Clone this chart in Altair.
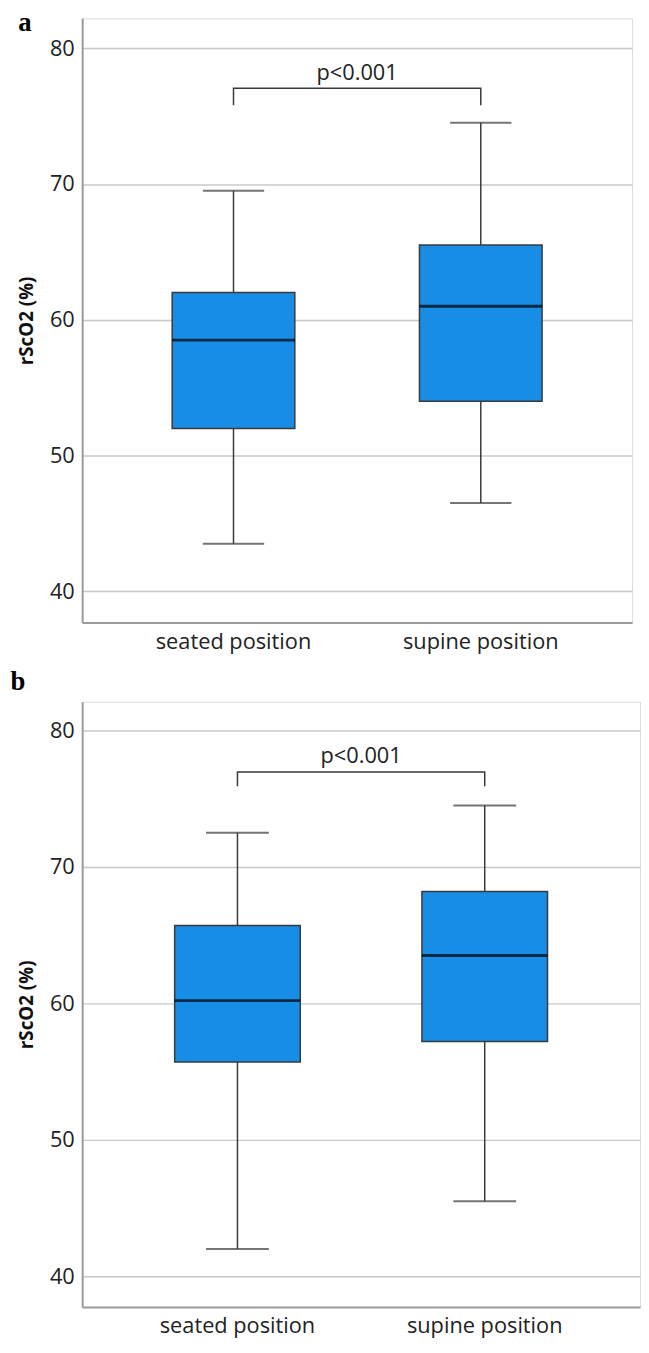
import altair as alt
import pandas as pd

categories = ["seated position", "supine position"]

# Panel a (box statistics, rScO2 %)
a_low = [43.5, 46.5]
a_q1 = [52.0, 54.0]
a_med = [58.5, 61.0]
a_q3 = [62.0, 65.5]
a_high = [69.5, 74.5]

# Panel b
b_low = [42.0, 45.5]
b_q1 = [55.7, 57.2]
b_med = [60.2, 63.5]
b_q3 = [65.7, 68.2]
b_high = [72.5, 74.5]

# significance bracket (bottom of legs, top bar) and label
a_bracket = [75.8, 77.05]
b_bracket = [75.9, 76.95]
p_label = "p<0.001"
a_p_y = 78.2
b_p_y = 78.1

y_ticks = [40, 50, 60, 70, 80]
a_domain = [37.7, 82.2]
b_domain = [37.75, 82.1]

FONT = "Open Sans"
BOX_FILL = "#178de6"
LINE = "#3a3a3a"


def panel(low, q1, med, q3, high, bracket, p_y, domain, letter, letter_x, letter_y,
          width, height, p_in, p_out, box_w):
    df = pd.DataFrame({"cat": categories, "low": low, "q1": q1, "med": med, "q3": q3, "high": high})
    br = pd.DataFrame({
        "cat": [categories[0], categories[0], categories[1], categories[1]],
        "y": [bracket[0], bracket[1], bracket[1], bracket[0]],
        "o": [0, 1, 2, 3],
    })
    pdf = pd.DataFrame({"cat": [categories[0]], "y": [p_y], "t": [p_label]})
    ldf = pd.DataFrame({"t": [letter]})

    xenc = alt.X("cat:N", sort=categories, title=None,
                 scale=alt.Scale(paddingInner=p_in, paddingOuter=p_out),
                 axis=alt.Axis(labelAngle=0, ticks=False, grid=False, labelFontSize=22,
                               labelFont=FONT, labelColor="#222", labelPadding=9,
                               domainColor="#9a9a9a", domainWidth=2))
    yscale = alt.Scale(domain=domain, nice=False, zero=False)
    yaxis = alt.Axis(values=y_ticks, ticks=False, grid=True, gridColor="#c8c8c8", gridWidth=1.5,
                     labelFontSize=22, labelFont=FONT, labelColor="#222", labelPadding=8,
                     domainColor="#9a9a9a", domainWidth=2, title="rScO2 (%)",
                     titleFont=FONT, titleFontSize=19, titleFontWeight="bold", titleColor="#111",
                     titlePadding=13)

    base = alt.Chart(df)
    whisk = base.mark_rule(color=LINE, strokeWidth=1.5).encode(
        x=xenc, y=alt.Y("low:Q", scale=yscale, axis=yaxis), y2="high:Q")
    cap_lo = base.mark_tick(color=LINE, size=box_w / 2, thickness=2).encode(x="cat:N", y="low:Q")
    cap_hi = base.mark_tick(color=LINE, size=box_w / 2, thickness=2).encode(x="cat:N", y="high:Q")
    box = base.mark_bar(fill=BOX_FILL, stroke=LINE, strokeWidth=1.5, size=box_w).encode(
        x="cat:N", y="q1:Q", y2="q3:Q")
    med_t = base.mark_tick(color="#000", size=box_w, thickness=3).encode(x="cat:N", y="med:Q")
    brk = alt.Chart(br).mark_line(color=LINE, strokeWidth=1.5).encode(
        x="cat:N", y="y:Q", order="o:Q")
    ptxt = alt.Chart(pdf).mark_text(font=FONT, fontSize=22, color="#222", dx=125,
                                    baseline="middle").encode(x="cat:N", y="y:Q", text="t:N")
    lt = alt.Chart(ldf).mark_text(font="Liberation Serif", fontSize=27, fontWeight="bold",
                                  color="#000", align="center", baseline="alphabetic").encode(
        x=alt.value(letter_x), y=alt.value(letter_y), text="t:N")
    return alt.layer(whisk, cap_lo, cap_hi, box, med_t, brk, ptxt, lt).properties(
        width=width, height=height)


pa = panel(a_low, a_q1, a_med, a_q3, a_high, a_bracket, a_p_y, a_domain, "a", -58, 13,
           556, 611, 0.504, 0.364, 124)
pb = panel(b_low, b_q1, b_med, b_q3, b_high, b_bracket, b_p_y, b_domain, "b", -65, -12,
           564, 612, 0.492, 0.374, 127)

chart = alt.vconcat(pa, pb, spacing=14).properties(
    padding={"left": 1, "top": -7, "right": 0, "bottom": 0}
).configure_view(strokeWidth=0, stroke="transparent").configure(background="white")

chart.save("out.html", embed_options={"renderer": "svg", "actions": False})
